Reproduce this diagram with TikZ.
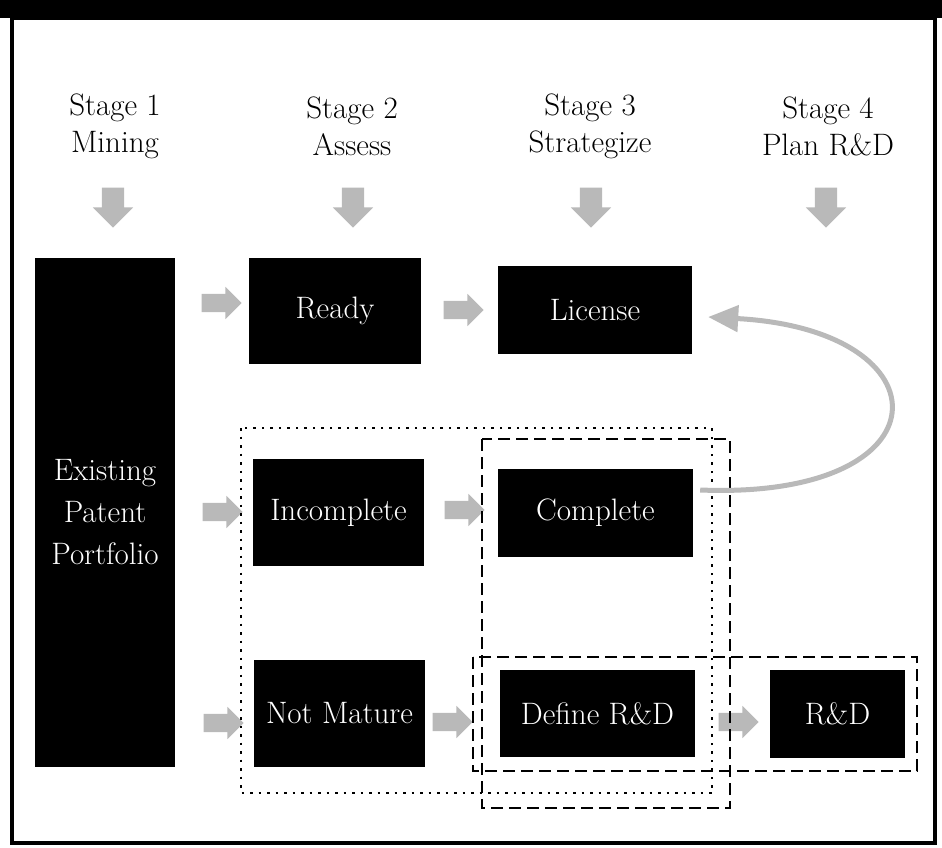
\documentclass[tikz,border=0pt]{standalone}
\usetikzlibrary{shapes.arrows,arrows.meta}

\begin{document}
\begin{tikzpicture}[x=1pt,y=-1pt,
		blk/.style={fill=black,text=white,inner sep=0pt,align=center,font=\fontsize{31}{42}\selectfont},
		head/.style={align=center,font=\fontsize{31}{37}\selectfont},
		garrow/.style={single arrow,fill=gray!55,inner sep=9pt,single arrow head extend=7pt,minimum height=40pt},
		darrow/.style={garrow,shape border rotate=270,inner sep=11pt,single arrow head extend=9pt},
		dots/.style={line width=2.5pt,dash pattern=on 2.5pt off 6pt},
		dashes/.style={line width=2.5pt,dash pattern=on 12pt off 6pt}]
			\useasboundingbox (0,0) rectangle (942,847);
			\fill (0,0) rectangle (942,18);
			\draw[line width=3.5pt] (12,18) rectangle (935,843);
			\node[head] (s1) at (115,126) {Stage 1\\Mining};
			\node[head] (s2) at (352,126) {Stage 2\\Assess};
			\node[head] (s3) at (590,126) {Stage 3\\Strategize};
			\node[head] (s4) at (828,126) {Stage 4\\Plan R\&D};
			\node[darrow] (d1) at (113,202) {};
			\node[darrow] (d2) at (353,202) {};
			\node[darrow] (d3) at (591,202) {};
			\node[darrow] (d4) at (826,202) {};
			\node[blk,minimum width=140pt,minimum height=509pt] (portfolio) at (105,512.5) {Existing\\Patent\\Portfolio};
			\node[blk,minimum width=172pt,minimum height=106pt] (ready) at (335,311) {Ready};
			\node[blk,minimum width=194pt,minimum height=88pt] (license) at (595,310) {License};
			\node[blk,minimum width=171pt,minimum height=107pt] (incomplete) at (338.5,512.5) {Incomplete};
			\node[blk,minimum width=195pt,minimum height=88pt] (complete) at (595.5,513) {Complete};
			\node[blk,minimum width=171pt,minimum height=107pt] (notmature) at (339.5,713.5) {Not Mature};
			\node[blk,minimum width=195pt,minimum height=87pt] (definerd) at (597.5,713.5) {Define R\&D};
			\node[blk,minimum width=135pt,minimum height=88pt] (rd) at (837.5,714) {R\&D};
			\node[garrow] (a1) at (217,303) {};
			\node[garrow] (a2) at (459,310) {};
			\node[garrow] (a3) at (218,512) {};
			\node[garrow] (a4) at (460,510) {};
			\node[garrow] (a5) at (219,723) {};
			\node[garrow] (a6) at (448,722) {};
			\node[garrow] (a7) at (734,722) {};
			\draw[dots] (241,428) rectangle (712,793);
			\draw[dashes] (482,439) rectangle (730,808);
			\draw[dashes] (473,657) rectangle (917,771);
			\draw[gray!55,line width=5pt,-{Triangle[length=30pt,width=26pt]}] ([xshift=7pt,yshift=23pt]complete.east) .. controls (950,500) and (950,330) .. ([xshift=16pt,yshift=-7pt]license.east);
		\end{tikzpicture}
\end{document}
